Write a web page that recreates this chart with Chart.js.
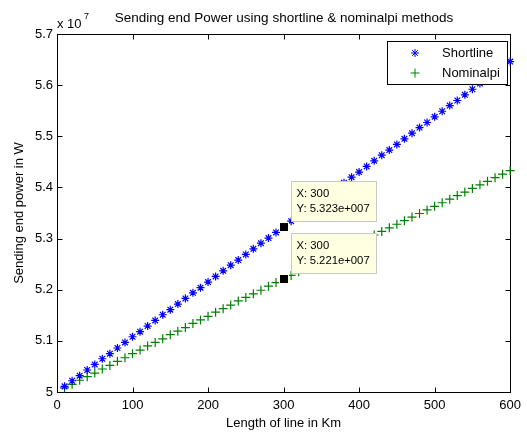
<!DOCTYPE html>
<html>
<head>
<meta charset="utf-8">
<script src="https://cdn.jsdelivr.net/npm/chart.js@4.4.1/dist/chart.umd.min.js"></script>
<style>
  body { margin: 0; background: #fff; }
  #wrap { width: 527px; height: 432px; position: relative; }
</style>
</head>
<body>
<div id="wrap"><canvas id="myChart"></canvas></div>
<script>
// line length in km
const lengthKm = [10, 20, 30, 40, 50, 60, 70, 80, 90, 100,
  110, 120, 130, 140, 150, 160, 170, 180, 190, 200,
  210, 220, 230, 240, 250, 260, 270, 280, 290, 300,
  310, 320, 330, 340, 350, 360, 370, 380, 390, 400,
  410, 420, 430, 440, 450, 460, 470, 480, 490, 500,
  510, 520, 530, 540, 550, 560, 570, 580, 590, 600];

// sending end power, in units of 10^7 W
const shortline = [5.011, 5.022, 5.032, 5.043, 5.054, 5.065, 5.075, 5.086, 5.097, 5.108,
  5.118, 5.129, 5.140, 5.151, 5.161, 5.172, 5.183, 5.194, 5.204, 5.215,
  5.226, 5.237, 5.248, 5.258, 5.269, 5.280, 5.291, 5.301, 5.312, 5.323,
  5.334, 5.344, 5.355, 5.366, 5.377, 5.387, 5.398, 5.409, 5.420, 5.430,
  5.441, 5.452, 5.463, 5.473, 5.484, 5.495, 5.506, 5.517, 5.527, 5.538,
  5.549, 5.560, 5.570, 5.581, 5.592, 5.603, 5.613, 5.624, 5.635, 5.646];

const nominalpi = [5.008, 5.015, 5.023, 5.030, 5.037, 5.045, 5.052, 5.060, 5.067, 5.075,
  5.082, 5.090, 5.097, 5.104, 5.112, 5.119, 5.126, 5.134, 5.141, 5.148,
  5.156, 5.163, 5.170, 5.178, 5.185, 5.192, 5.199, 5.207, 5.214, 5.221,
  5.228, 5.235, 5.243, 5.250, 5.257, 5.264, 5.271, 5.278, 5.286, 5.293,
  5.300, 5.307, 5.314, 5.321, 5.328, 5.335, 5.342, 5.349, 5.356, 5.363,
  5.370, 5.377, 5.384, 5.391, 5.398, 5.405, 5.412, 5.419, 5.426, 5.433];

const xTicks = [0, 100, 200, 300, 400, 500, 600];
const yTicks = [5, 5.1, 5.2, 5.3, 5.4, 5.5, 5.6, 5.7];

// data tips shown at x = 300
const tips = [
  { x: 300, y: 5.323, label: "5.323e+007" },
  { x: 300, y: 5.221, label: "5.221e+007" }
];

const FONT = "Arial, 'Liberation Sans', sans-serif";

function toPoints(ys) {
  return lengthKm.map((x, i) => ({ x: x, y: ys[i] }));
}

const matlabAxes = {
  id: "matlabAxes",
  beforeDatasetsDraw(chart) {
    const ctx = chart.ctx;
    const a = chart.chartArea;
    const xs = chart.scales.x;
    const ys = chart.scales.y;
    const L = Math.round(a.left) + 0.5, R = Math.round(a.right) + 0.5;
    const T = Math.round(a.top) + 0.5, B = Math.round(a.bottom) + 0.5;
    ctx.save();
    ctx.strokeStyle = "#000";
    ctx.lineWidth = 1;
    ctx.strokeRect(L, T, R - L, B - T);
    ctx.beginPath();
    xTicks.forEach((v) => {
      const p = Math.round(xs.getPixelForValue(v)) + 0.5;
      ctx.moveTo(p, B); ctx.lineTo(p, B - 5);
      ctx.moveTo(p, T); ctx.lineTo(p, T + 5);
    });
    yTicks.forEach((v) => {
      const p = Math.round(ys.getPixelForValue(v)) + 0.5;
      ctx.moveTo(L, p); ctx.lineTo(L + 5, p);
      ctx.moveTo(R, p); ctx.lineTo(R - 5, p);
    });
    ctx.stroke();
    ctx.restore();
  },
  afterDraw(chart) {
    const ctx = chart.ctx;
    const a = chart.chartArea;
    const xs = chart.scales.x;
    const ys = chart.scales.y;
    ctx.save();
    ctx.fillStyle = "#000";

    // title
    ctx.font = "13.5px " + FONT;
    ctx.textAlign = "center";
    ctx.textBaseline = "middle";
    ctx.fillText("Sending end Power using shortline & nominalpi methods", 284, 18);

    // exponent label
    ctx.textAlign = "left";
    ctx.font = "13px " + FONT;
    ctx.fillText("x 10", a.left, 24);
    ctx.font = "9px " + FONT;
    ctx.fillText("7", a.left + 27, 17);

    // axis labels
    ctx.font = "13px " + FONT;
    ctx.textAlign = "center";
    ctx.fillText("Length of line in Km", (a.left + a.right) / 2, 423);
    ctx.save();
    ctx.translate(19, (a.top + a.bottom) / 2);
    ctx.rotate(-Math.PI / 2);
    ctx.fillText("Sending end power in W", 0, 0);
    ctx.restore();

    // legend
    ctx.fillStyle = "#fff";
    ctx.fillRect(387.5, 41.5, 120, 43);
    ctx.strokeStyle = "#000";
    ctx.lineWidth = 1;
    ctx.strokeRect(387.5, 41.5, 120, 43);
    ctx.strokeStyle = "#0000ff";
    Chart.helpers.drawPoint(ctx, { pointStyle: "star", radius: 4, borderWidth: 1.2 }, 415, 53);
    ctx.strokeStyle = "#008000";
    Chart.helpers.drawPoint(ctx, { pointStyle: "cross", radius: 4.5, borderWidth: 1.2 }, 415, 73);
    ctx.fillStyle = "#000";
    ctx.font = "13px " + FONT;
    ctx.textAlign = "left";
    ctx.fillText("Shortline", 442, 53);
    ctx.fillText("Nominalpi", 442, 73);

    // data tips
    tips.forEach((t) => {
      const px = xs.getPixelForValue(t.x);
      const py = ys.getPixelForValue(t.y);
      const bx = Math.round(px) + 7.5;
      const by = Math.round(py) - 45.5;
      ctx.lineWidth = 1;
      ctx.fillStyle = "#ffffe1";
      ctx.strokeStyle = "#c8c8c8";
      ctx.fillRect(bx, by, 85, 40);
      ctx.strokeRect(bx, by, 85, 40);
      ctx.fillStyle = "#000";
      ctx.font = "11.3px " + FONT;
      ctx.fillText("X: " + t.x, bx + 5, by + 12);
      ctx.fillText("Y: " + t.label, bx + 5, by + 27);
      ctx.fillStyle = "#ffffe1";
      ctx.fillRect(Math.round(px) - 5, Math.round(py) - 5, 10, 10);
      ctx.fillStyle = "#000";
      ctx.fillRect(Math.round(px) - 4, Math.round(py) - 4, 8, 8);
    });
    ctx.restore();
  }
};

const ctx = document.getElementById("myChart").getContext("2d");
new Chart(ctx, {
  type: "scatter",
  data: {
    datasets: [
      {
        label: "Shortline",
        data: toPoints(shortline),
        pointStyle: "star",
        pointRadius: 4,
        pointBorderWidth: 1.2,
        borderColor: "#0000ff",
        backgroundColor: "#0000ff",
        clip: false,
      },
      {
        label: "Nominalpi",
        data: toPoints(nominalpi),
        pointStyle: "cross",
        pointRadius: 4.5,
        pointBorderWidth: 1.2,
        borderColor: "#008000",
        backgroundColor: "#008000",
        clip: false,
      },
    ],
  },
  options: {
    responsive: true,
    maintainAspectRatio: false,
    animation: false,
    events: [],
    layout: { padding: { top: 34, right: 14, left: 0, bottom: 0 } },
    plugins: {
      legend: { display: false },
      title: { display: false },
      tooltip: { enabled: false },
    },
    scales: {
      x: {
        type: "linear",
        min: 0,
        max: 600,
        afterFit: (s) => { s.height = 40; },
        afterBuildTicks: (s) => { s.ticks = xTicks.map((v) => ({ value: v })); },
        grid: { display: false, drawTicks: false },
        border: { display: false },
        ticks: {
          padding: 6,
          color: "#000",
          maxRotation: 0,
          font: { family: FONT, size: 13 },
        },
      },
      y: {
        type: "linear",
        min: 5,
        max: 5.7,
        afterFit: (s) => { s.width = 57; },
        afterBuildTicks: (s) => { s.ticks = yTicks.map((v) => ({ value: v })); },
        grid: { display: false, drawTicks: false },
        border: { display: false },
        ticks: {
          padding: 4,
          color: "#000",
          font: { family: FONT, size: 13 },
          callback: (v) => String(Number(v.toFixed(1))),
        },
      },
    },
  },
  plugins: [matlabAxes],
});
</script>
</body>
</html>
